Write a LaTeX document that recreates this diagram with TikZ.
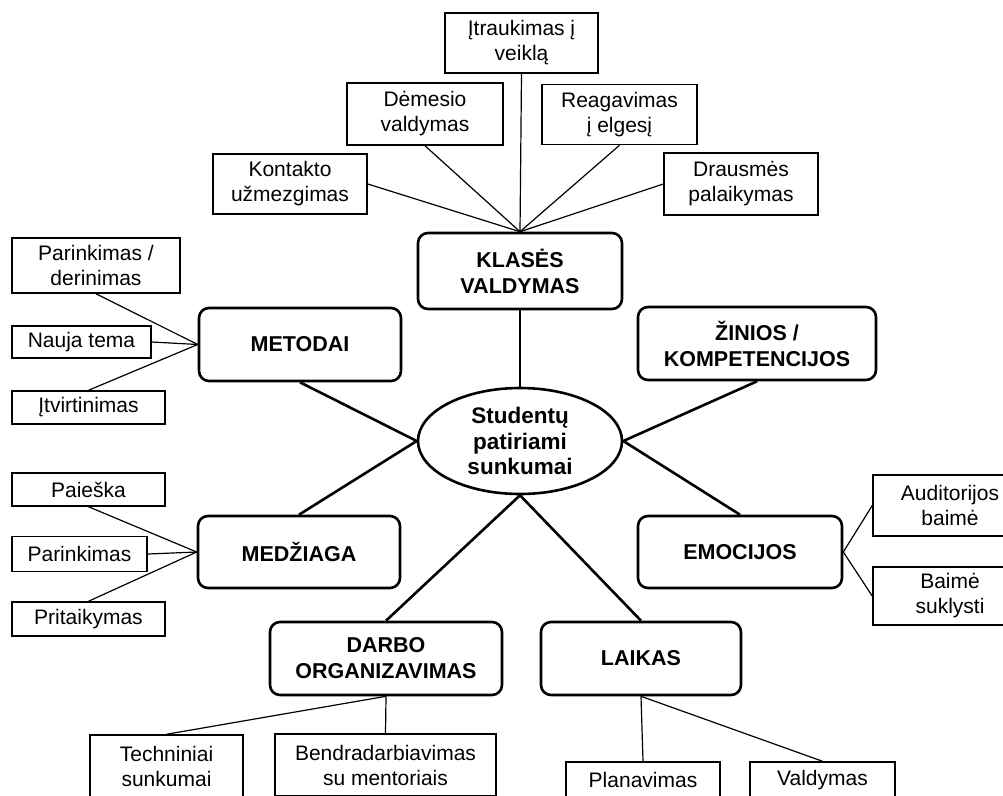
\documentclass[tikz,border=0pt]{standalone}
\usepackage{fontspec}
\setmainfont{Liberation Sans}
\usetikzlibrary{shapes.geometric}

\tikzset{
  mainbox/.style={draw, line width=2.6pt, rounded corners=10pt, align=center,
    inner sep=0pt, minimum width=204pt, minimum height=73pt,
    font=\bfseries\fontsize{21.5}{26}\selectfont},
  leafbox/.style={draw, line width=1.5pt, align=center, inner sep=0pt,
    minimum width=154pt, minimum height=61pt,
    font=\fontsize{21}{25}\selectfont},
  mainline/.style={line width=2.6pt},
  leafline/.style={line width=1.2pt},
}

\begin{document}
\begin{tikzpicture}[x=1pt,y=-1pt]
\useasboundingbox (0,0) rectangle (1003,795);
\clip (0,0) rectangle (1003,795);

% centre
\node[draw, ellipse, line width=2.6pt, minimum width=204pt, minimum height=106pt,
  inner sep=0pt, align=center, font=\bfseries\fontsize{22.5}{25.5}\selectfont]
  (core) at (520,441) {Studentų\\patiriami\\sunkumai};

% main topics
\node[mainbox, minimum height=76pt] (klases) at (520,271) {KLASĖS\\VALDYMAS};
\node[mainbox, minimum width=202pt] (metodai) at (300,344.5) {METODAI};
\node[mainbox, minimum width=238pt] (zinios) at (757,343.5) {ŽINIOS /\\KOMPETENCIJOS};
\node[mainbox, minimum width=202pt, minimum height=72pt] (medz) at (299,552) {MEDŽIAGA};
\node[mainbox, minimum height=72pt] (emoc) at (740,552) {EMOCIJOS};
\node[mainbox, minimum width=232pt] (darbo) at (386,658.5) {DARBO\\ORGANIZAVIMAS};
\node[mainbox, minimum width=200pt] (laikas) at (641,658.5) {LAIKAS};

% klases valdymas
\node[leafbox, minimum width=153pt, minimum height=60pt] (itrauk) at (521.5,43) {Įtraukimas į\\veiklą};
\node[leafbox, minimum width=156pt, minimum height=62pt] (demes) at (425,114) {Dėmesio\\valdymas};
\node[leafbox, minimum width=155pt, minimum height=60pt] (reag) at (619.5,114.5) {Reagavimas\\į elgesį};
\node[leafbox, minimum height=60pt] (kontakt) at (290,184) {Kontakto\\užmezgimas};
\node[leafbox, minimum height=62pt] (drausm) at (741,184) {Drausmės\\palaikymas};

% metodai
\node[leafbox, minimum width=168pt, minimum height=55pt] (parder) at (96,265.5) {Parinkimas /\\derinimas};
\node[leafbox, minimum width=139pt, minimum height=32pt] (nauja) at (81.5,342) {Nauja tema};
\node[leafbox, minimum width=153pt, minimum height=33pt] (itvirt) at (88.5,407.5) {Įtvirtinimas};

% medziaga
\node[leafbox, minimum width=153pt, minimum height=33pt] (paieska) at (88.5,489.5) {Paieška};
\node[leafbox, minimum width=135pt, minimum height=35pt] (parink) at (79.5,554) {Parinkimas};
\node[leafbox, minimum width=153pt, minimum height=34pt] (pritaik) at (88.5,619) {Pritaikymas};

% emocijos
\node[leafbox] (audit) at (950,505.5) {Auditorijos\\baimė};
\node[leafbox, minimum height=58pt] (baime) at (950,596) {Baimė\\suklysti};

% darbo organizavimas, laikas
\node[leafbox, minimum width=153pt, minimum height=62pt] (techn) at (166.5,766) {Techniniai\\sunkumai};
\node[leafbox, minimum width=221pt, minimum height=62pt] (bendr) at (385.5,765) {Bendradarbiavimas\\su mentoriais};
\node[leafbox, minimum height=36pt] (planav) at (643,780) {Planavimas};
\node[leafbox, minimum width=145pt, minimum height=36pt] (valdym) at (822.5,780) {Valdymas};

% connectors
\draw[mainline] (klases.south) -- (core.north);
\draw[mainline] (metodai.south) -- (core.west);
\draw[mainline] (medz.north) -- (core.west);
\draw[mainline] (zinios.south) -- (core.east);
\draw[mainline] (core.east) -- (emoc.north);
\draw[mainline] (core.south) -- (darbo.north);
\draw[mainline] (core.south) -- (laikas.north);

\foreach \n in {itrauk.south, demes.south, reag.south, kontakt.east, drausm.west}
  \draw[leafline] (\n) -- (klases.north);
\foreach \n in {parder.south, nauja.east, itvirt.north}
  \draw[leafline] (\n) -- (metodai.west);
\foreach \n in {paieska.south, parink.east, pritaik.north}
  \draw[leafline] (\n) -- (medz.west);
\foreach \n in {audit.west, baime.west}
  \draw[leafline] (emoc.east) -- (\n);
\foreach \n in {techn.north, bendr.north}
  \draw[leafline] (darbo.south) -- (\n);
\foreach \n in {planav.north, valdym.north}
  \draw[leafline] (laikas.south) -- (\n);
\end{tikzpicture}
\end{document}
